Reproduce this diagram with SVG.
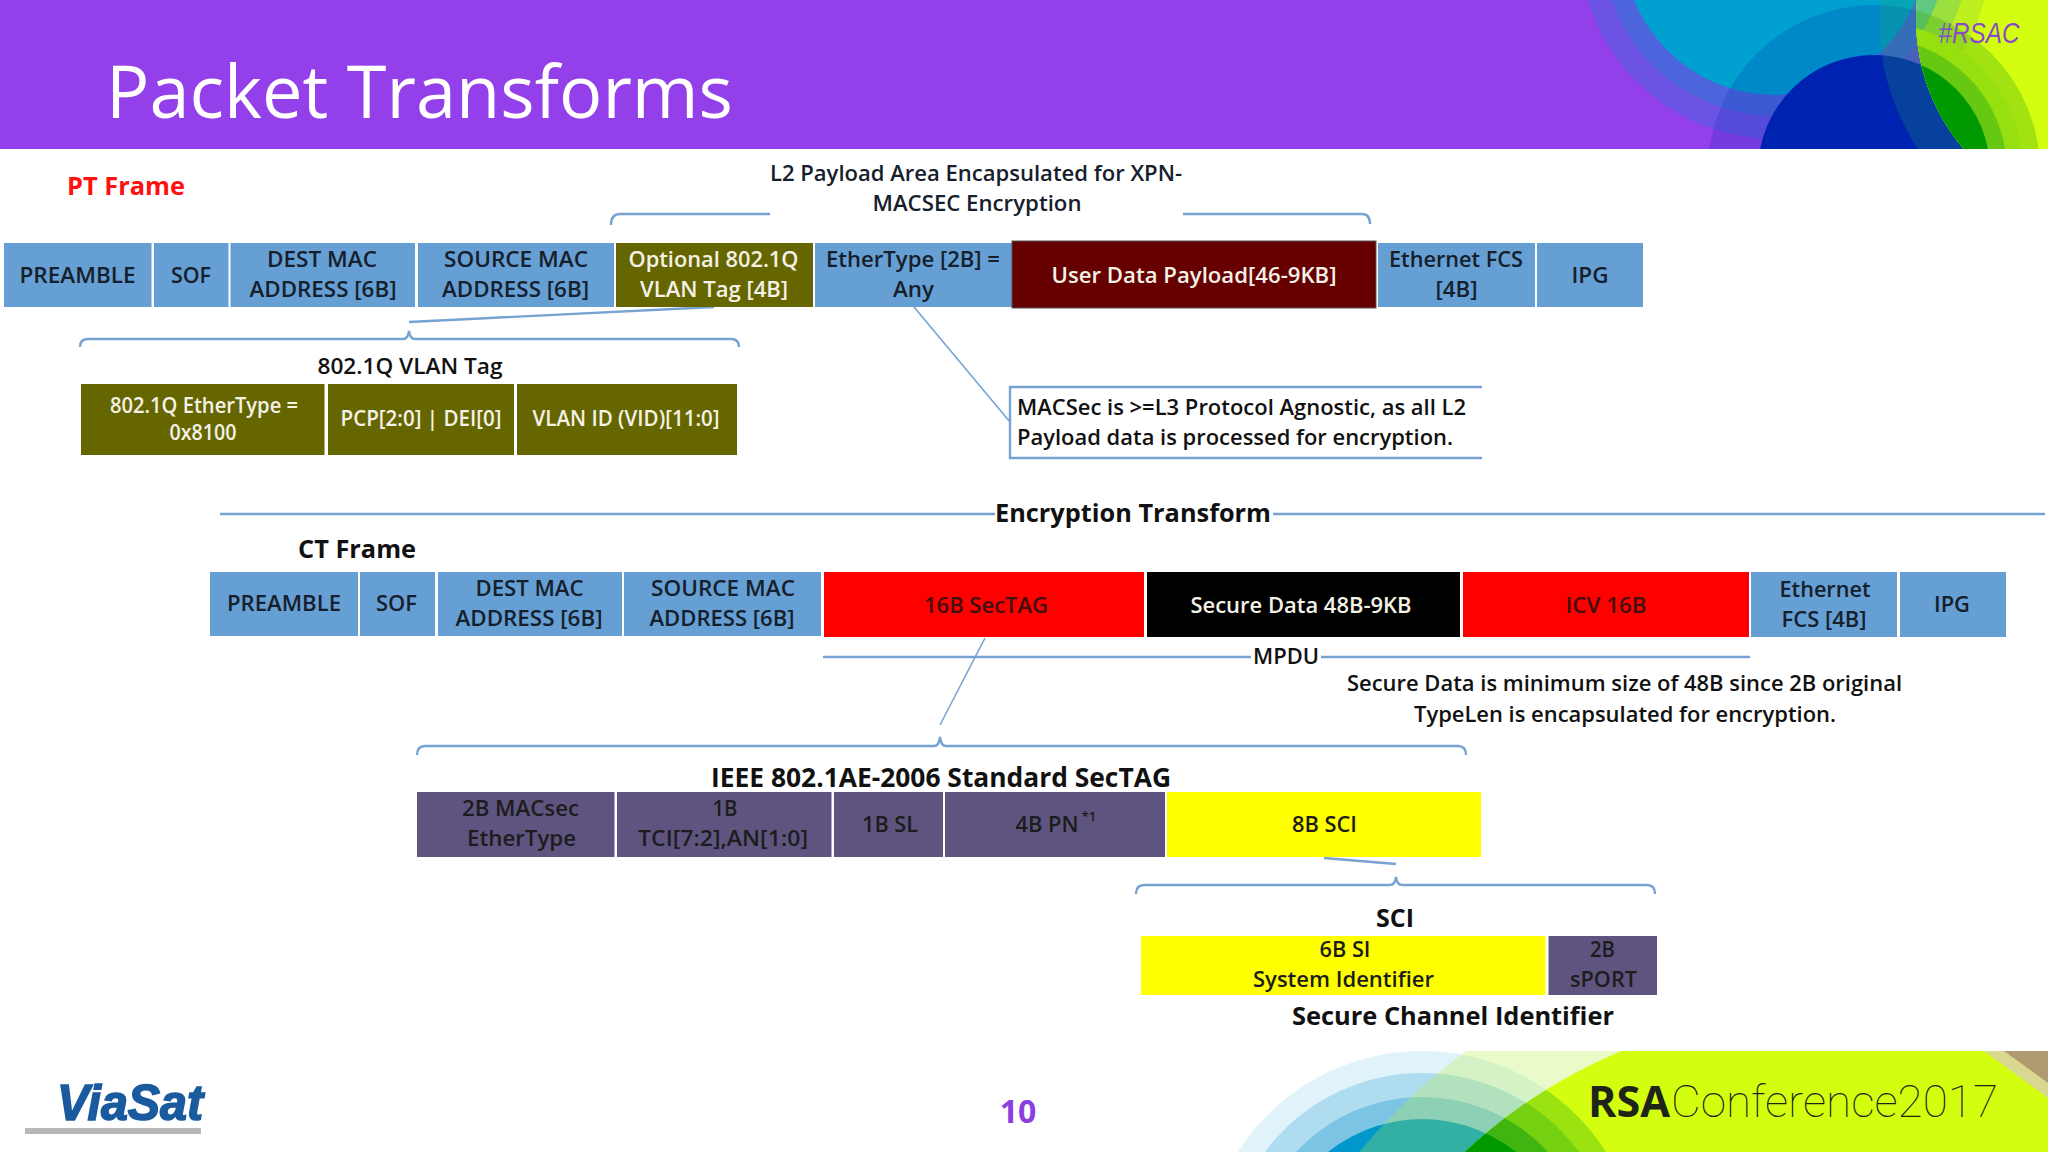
<svg xmlns="http://www.w3.org/2000/svg" width="2048" height="1152" viewBox="0 0 2048 1152">
<style>
text{font-family:"Open Sans","Liberation Sans",sans-serif;font-size:22px;font-weight:600;fill:#16202c;text-anchor:middle}
.w{fill:#f4f2e6}
.b{font-weight:700;fill:#111;font-size:25px}
.s{text-anchor:start;fill:#111}
.n{fill:#1c1c1c}
.blue{fill:#659fd3}.olive{fill:#666600}.red{fill:#ff0000}.purple{fill:#5f5480}.yellow{fill:#ffff00}
.ln{fill:none;stroke:#76a3d2;stroke-width:2.4}
</style>
<defs>
<clipPath id="hc"><rect width="2048" height="149"/></clipPath>
<clipPath id="fc"><rect y="1051" width="2048" height="101"/></clipPath>
<clipPath id="hl"><circle cx="2117" cy="19" r="201"/></clipPath>
<clipPath id="fl"><circle cx="1822" cy="1534" r="523"/></clipPath>
</defs>
<rect width="2048" height="1152" fill="#fff"/>
<g id="header" clip-path="url(#hc)">
<rect width="2048" height="149" fill="#933fea"/>
<circle cx="1775" cy="-57" r="196" fill="#0090d0" opacity=".26"/>
<circle cx="1775" cy="-57" r="173" fill="#0090d0" opacity=".3"/>
<circle cx="1775" cy="-57" r="152" fill="#00a0d0"/>
<g fill="#0030b0" opacity=".2"><circle cx="1874" cy="171" r="166"/><circle cx="1874" cy="171" r="149"/><circle cx="1874" cy="171" r="133"/></g>
<circle cx="1874" cy="171" r="116" fill="#0022b0"/>
<g fill="#20b060" opacity=".22"><circle cx="2117" cy="19" r="238"/><circle cx="2117" cy="19" r="218"/></g>
<circle cx="2117" cy="19" r="201" fill="#d4fe10"/>
<g clip-path="url(#hl)">
<circle cx="1775" cy="-57" r="217" fill="#bef020"/><circle cx="1775" cy="-57" r="195" fill="#9ce040"/><circle cx="1775" cy="-57" r="172" fill="#60c880"/>
<g fill="#44b010" opacity=".35"><circle cx="1874" cy="171" r="166"/></g>
<circle cx="1874" cy="171" r="149" fill="#96e010"/><circle cx="1874" cy="171" r="133" fill="#66c810"/><circle cx="1874" cy="171" r="116" fill="#009a00"/>
</g>
<text x="1979" y="43" style="font-family:'Liberation Sans',sans-serif;font-size:29px;font-style:italic;font-weight:400;fill:#8a4ac8" textLength="81" lengthAdjust="spacingAndGlyphs">#RSAC</text>
</g>
<text id="title" x="106" y="118" style="text-anchor:start;font-size:74px;font-weight:400;fill:#fff" textLength="627" lengthAdjust="spacingAndGlyphs">Packet Transforms</text>

<g id="footer" clip-path="url(#fc)">
<circle cx="1422" cy="1269" r="218" fill="#e0f3fb"/><circle cx="1422" cy="1269" r="196" fill="#b0dcef"/><circle cx="1422" cy="1269" r="172" fill="#7cc4e4"/><circle cx="1422" cy="1269" r="150" fill="#0098cc"/>
<g fill="#b8f040" opacity=".28"><circle cx="1822" cy="1534" r="600"/><circle cx="1822" cy="1534" r="575"/><circle cx="1822" cy="1534" r="550"/></g>
<circle cx="1822" cy="1534" r="523" fill="#d4fe10"/>
<g clip-path="url(#fl)"><circle cx="1422" cy="1269" r="218" fill="#9ae210"/><circle cx="1422" cy="1269" r="196" fill="#74d010"/><circle cx="1422" cy="1269" r="172" fill="#40b410"/><circle cx="1422" cy="1269" r="150" fill="#009a00"/></g>
<polygon points="1984,1051 2048,1051 2048,1098" fill="#d8d890"/>
<polygon points="2004,1051 2048,1051 2048,1083" fill="#b09a70"/>
</g>
<text id="rsa" x="1588" y="1117" style="text-anchor:start;font-size:43px;font-weight:700;fill:#1e2418" textLength="82" lengthAdjust="spacingAndGlyphs">RSA</text>
<text id="conference" x="1671" y="1117" style="text-anchor:start;font-family:Roboto,sans-serif;font-size:44px;font-weight:100;fill:#1e2418" textLength="327" lengthAdjust="spacingAndGlyphs">Conference2017</text>
<g id="viasat-logo"><text x="57" y="1120" style="text-anchor:start;font-family:'Liberation Sans',sans-serif;font-size:50px;font-style:italic;font-weight:700;fill:#1a5a9e;stroke:#1a5a9e;stroke-width:1.6" textLength="146" lengthAdjust="spacingAndGlyphs">ViaSat</text><rect x="25" y="1128" width="176" height="6" fill="#b8b6b8"/></g>
<text id="page-number" x="1018" y="1123" style="font-size:32px;font-weight:700;fill:#8a3fe0">10</text>

<g id="connectors">
<path class="ln" d="M611,225Q611,214 620,214L770,214M1183,214L1362,214Q1370,214 1370,224"/>
<path class="ln" d="M409,322L714,307"/>
<path class="ln" d="M80,347Q80,339 88,339L403,339Q408,339 409,331Q410,339 415,339L731,339Q739,339 739,347"/>
<path class="ln" d="M914,307L1010,422" style="stroke-width:1.6"/>
<path class="ln" d="M1482,387L1010,387L1010,458L1482,458"/>
<path class="ln" d="M220,514H995M1273,514H2045"/>
<path class="ln" d="M823,657H1251M1321,657H1750"/>
<path class="ln" d="M985,638L940,725" style="stroke-width:1.6"/>
<path class="ln" d="M417,755Q417,746 425,746L934,746Q939,746 940,737Q941,746 946,746L1458,746Q1466,746 1466,755"/>
<path class="ln" d="M1324,858L1396,864"/>
<path class="ln" d="M1136,894Q1136,885 1144,885L1390,885Q1395,885 1396,877Q1397,885 1402,885L1647,885Q1655,885 1655,894"/>
</g>

<text id="pt-frame" x="126" y="195" class="b" style="fill:#ff1010" textLength="118" lengthAdjust="spacingAndGlyphs">PT Frame</text>
<g id="l2-label"><text x="976" y="181" textLength="412" lengthAdjust="spacingAndGlyphs">L2 Payload Area Encapsulated for XPN-</text><text x="977" y="211" textLength="209" lengthAdjust="spacingAndGlyphs">MACSEC Encryption</text></g>

<g id="pt-preamble"><rect class="blue" x="4" y="243" width="147.500" height="64"/><text x="77.500" y="283" textLength="116" lengthAdjust="spacingAndGlyphs">PREAMBLE</text></g>
<g id="pt-sof"><rect class="blue" x="154" y="243" width="74.500" height="64"/><text x="191" y="283" textLength="40" lengthAdjust="spacingAndGlyphs">SOF</text></g>
<g id="pt-dest"><rect class="blue" x="230.500" y="243" width="184.500" height="64"/><text x="322" y="267" textLength="110" lengthAdjust="spacingAndGlyphs">DEST MAC</text><text x="323" y="297" textLength="147" lengthAdjust="spacingAndGlyphs">ADDRESS [6B]</text></g>
<g id="pt-source"><rect class="blue" x="418" y="243" width="196" height="64"/><text x="516" y="267" textLength="144" lengthAdjust="spacingAndGlyphs">SOURCE MAC</text><text x="515.500" y="297" textLength="147" lengthAdjust="spacingAndGlyphs">ADDRESS [6B]</text></g>
<g id="pt-vlan"><rect class="olive" x="616" y="243" width="197" height="64"/><text class="w" x="713.500" y="267" textLength="170" lengthAdjust="spacingAndGlyphs">Optional 802.1Q</text><text class="w" x="714" y="297" textLength="148" lengthAdjust="spacingAndGlyphs">VLAN Tag [4B]</text></g>
<g id="pt-ethertype"><rect class="blue" x="815" y="243" width="198" height="64"/><text x="913" y="267" textLength="174" lengthAdjust="spacingAndGlyphs">EtherType [2B] =</text><text x="913.500" y="297" textLength="41" lengthAdjust="spacingAndGlyphs">Any</text></g>
<g id="pt-payload"><rect x="1012" y="241" width="364" height="67" fill="#660000" stroke="#555" stroke-width="1"/><text class="w" x="1194" y="283" textLength="285" lengthAdjust="spacingAndGlyphs">User Data Payload[46-9KB]</text></g>
<g id="pt-fcs"><rect class="blue" x="1378" y="243" width="157" height="64"/><text x="1456" y="267" textLength="134" lengthAdjust="spacingAndGlyphs">Ethernet FCS</text><text x="1456.500" y="297" textLength="42" lengthAdjust="spacingAndGlyphs">[4B]</text></g>
<g id="pt-ipg"><rect class="blue" x="1537" y="243" width="106" height="64"/><text x="1590" y="283" textLength="37" lengthAdjust="spacingAndGlyphs">IPG</text></g>

<text id="vlan-title" x="410" y="374" style="fill:#111" textLength="185" lengthAdjust="spacingAndGlyphs">802.1Q VLAN Tag</text>
<g id="vlan-ethertype"><rect class="olive" x="81" y="384" width="243.500" height="71"/><text class="w" x="204" y="413" textLength="188" lengthAdjust="spacingAndGlyphs">802.1Q EtherType =</text><text class="w" x="203" y="440" textLength="67" lengthAdjust="spacingAndGlyphs">0x8100</text></g>
<g id="vlan-pcp"><rect class="olive" x="328" y="384" width="186" height="71"/><text class="w" x="421" y="426" textLength="161" lengthAdjust="spacingAndGlyphs">PCP[2:0] | DEI[0]</text></g>
<g id="vlan-id"><rect class="olive" x="517" y="384" width="220" height="71"/><text class="w" x="626" y="426" textLength="187" lengthAdjust="spacingAndGlyphs">VLAN ID (VID)[11:0]</text></g>

<g id="note-agnostic"><text class="s" x="1017" y="415" textLength="449" lengthAdjust="spacingAndGlyphs">MACSec is &gt;=L3 Protocol Agnostic, as all L2</text><text class="s" x="1017" y="445" textLength="436" lengthAdjust="spacingAndGlyphs">Payload data is processed for encryption.</text></g>
<text id="encryption-transform" x="1133" y="522" class="b" textLength="276" lengthAdjust="spacingAndGlyphs">Encryption Transform</text>
<text id="ct-frame" x="357" y="558" class="b" textLength="118" lengthAdjust="spacingAndGlyphs">CT Frame</text>

<g id="ct-preamble"><rect class="blue" x="210" y="572" width="148" height="64"/><text x="284" y="611" textLength="114" lengthAdjust="spacingAndGlyphs">PREAMBLE</text></g>
<g id="ct-sof"><rect class="blue" x="360" y="572" width="75" height="64"/><text x="396.500" y="611" textLength="41" lengthAdjust="spacingAndGlyphs">SOF</text></g>
<g id="ct-dest"><rect class="blue" x="438" y="572" width="184" height="64"/><text x="529.500" y="596" textLength="108" lengthAdjust="spacingAndGlyphs">DEST MAC</text><text x="529" y="626" textLength="147" lengthAdjust="spacingAndGlyphs">ADDRESS [6B]</text></g>
<g id="ct-source"><rect class="blue" x="624" y="572" width="197" height="64"/><text x="723" y="596" textLength="144" lengthAdjust="spacingAndGlyphs">SOURCE MAC</text><text x="722" y="626" textLength="145" lengthAdjust="spacingAndGlyphs">ADDRESS [6B]</text></g>
<g id="ct-sectag"><rect class="red" x="824" y="572" width="320" height="65"/><text x="986" y="613" style="fill:#401010" textLength="124" lengthAdjust="spacingAndGlyphs">16B SecTAG</text></g>
<g id="ct-secure-data"><rect x="1147" y="572" width="313" height="65" fill="#000"/><text class="w" x="1301" y="613" textLength="221" lengthAdjust="spacingAndGlyphs">Secure Data 48B-9KB</text></g>
<g id="ct-icv"><rect class="red" x="1463" y="572" width="286" height="65"/><text x="1606" y="613" style="fill:#401010" textLength="81" lengthAdjust="spacingAndGlyphs">ICV 16B</text></g>
<g id="ct-fcs"><rect class="blue" x="1751" y="572" width="146" height="65"/><text x="1825" y="597" textLength="91" lengthAdjust="spacingAndGlyphs">Ethernet</text><text x="1824" y="627" textLength="85" lengthAdjust="spacingAndGlyphs">FCS [4B]</text></g>
<g id="ct-ipg"><rect class="blue" x="1900" y="572" width="106" height="65"/><text x="1952" y="612" textLength="36" lengthAdjust="spacingAndGlyphs">IPG</text></g>

<text id="mpdu" x="1286" y="664" style="fill:#111" textLength="66" lengthAdjust="spacingAndGlyphs">MPDU</text>
<g id="note-secure"><text x="1624.500" y="691" style="fill:#111" textLength="555" lengthAdjust="spacingAndGlyphs">Secure Data is minimum size of 48B since 2B original</text><text x="1625" y="722" style="fill:#111" textLength="422" lengthAdjust="spacingAndGlyphs">TypeLen is encapsulated for encryption.</text></g>

<text id="ieee-title" x="941" y="787" class="b" style="font-size:26px" textLength="460" lengthAdjust="spacingAndGlyphs">IEEE 802.1AE-2006 Standard SecTAG</text>
<g id="tag-ethertype"><rect class="purple" x="417" y="792" width="197.500" height="65"/><text class="n" x="520.500" y="816" textLength="117" lengthAdjust="spacingAndGlyphs">2B MACsec</text><text class="n" x="521.500" y="846" textLength="109" lengthAdjust="spacingAndGlyphs">EtherType</text></g>
<g id="tag-tci"><rect class="purple" x="617" y="792" width="214.500" height="65"/><text class="n" x="725" y="816" textLength="25" lengthAdjust="spacingAndGlyphs">1B</text><text class="n" x="723" y="846" textLength="170" lengthAdjust="spacingAndGlyphs">TCI[7:2],AN[1:0]</text></g>
<g id="tag-sl"><rect class="purple" x="834" y="792" width="109" height="65"/><text class="n" x="890" y="832" textLength="56" lengthAdjust="spacingAndGlyphs">1B SL</text></g>
<g id="tag-pn"><rect class="purple" x="945" y="792" width="220" height="65"/><text class="n" x="1047" y="832" textLength="63" lengthAdjust="spacingAndGlyphs">4B PN</text><text class="n" x="1089" y="821" style="font-size:13px" textLength="15" lengthAdjust="spacingAndGlyphs">*1</text></g>
<g id="tag-sci"><rect class="yellow" x="1167" y="792" width="314" height="65"/><text class="n" x="1324.500" y="832" textLength="65" lengthAdjust="spacingAndGlyphs">8B SCI</text></g>

<text id="sci-title" x="1395" y="927" class="b" textLength="38" lengthAdjust="spacingAndGlyphs">SCI</text>
<g id="sci-si"><rect class="yellow" x="1141" y="936" width="404.500" height="59"/><text class="n" x="1345" y="957" textLength="51" lengthAdjust="spacingAndGlyphs">6B SI</text><text class="n" x="1343.500" y="987" textLength="181" lengthAdjust="spacingAndGlyphs">System Identifier</text></g>
<g id="sci-sport"><rect class="purple" x="1548.500" y="936" width="108.500" height="59"/><text class="n" x="1602.500" y="957" textLength="25" lengthAdjust="spacingAndGlyphs">2B</text><text class="n" x="1603.500" y="987" textLength="67" lengthAdjust="spacingAndGlyphs">sPORT</text></g>
<text id="sci-caption" x="1453" y="1025" class="b" textLength="322" lengthAdjust="spacingAndGlyphs">Secure Channel Identifier</text>
</svg>
